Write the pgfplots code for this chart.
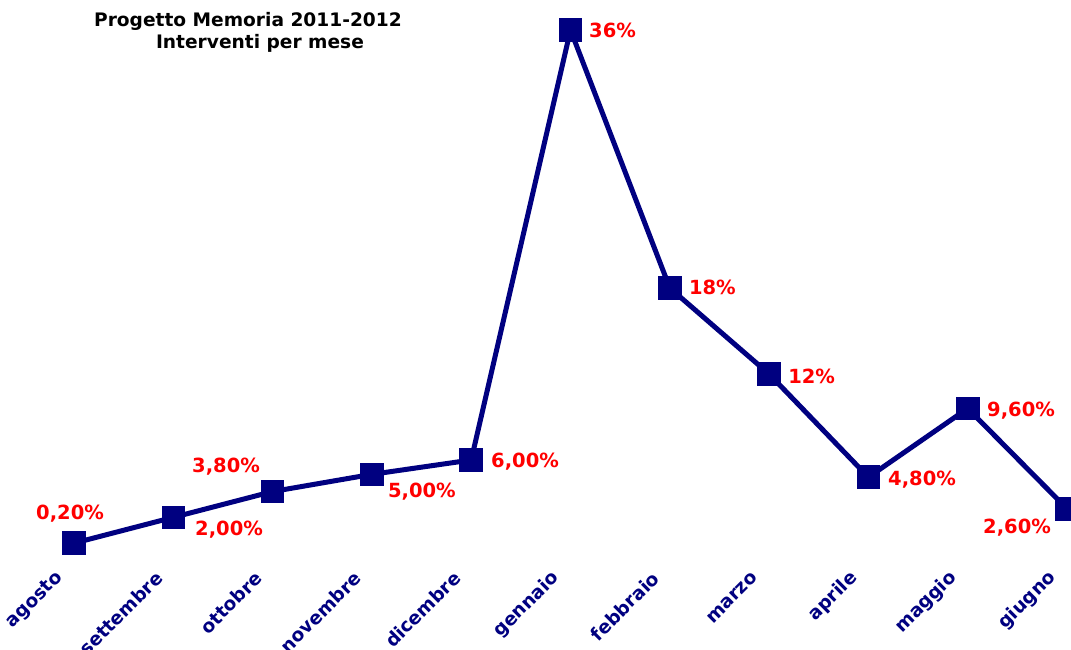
\documentclass[border=0pt]{standalone}
\usepackage{pgfplots}
\pgfplotsset{compat=1.18}
\usepackage{fontspec}
\setmainfont{DejaVu Sans}
\definecolor{navy}{RGB}{0,0,128}
\definecolor{lblred}{RGB}{255,0,0}
\tikzset{lbl/.style={anchor=base west, inner sep=0pt, text=lblred, font=\fontsize{19.5}{21}\selectfont\bfseries}}
\begin{document}
\begin{tikzpicture}
\path[use as bounding box] (-74pt,-103pt) rectangle (997pt,546pt);
\begin{axis}[
  at={(0pt,0pt)}, anchor=south west,
  scale only axis, width=993pt, height=516pt,
  xmin=0, xmax=10, ymin=0, ymax=36,
  clip=false,
  axis line style={draw=none},
  major tick length=0pt,
  ytick=\empty,
  xtick={0,1,2,3,4,5,6,7,8,9,10},
  xticklabels={agosto,settembre,ottobre,novembre,dicembre,gennaio,febbraio,marzo,aprile,maggio,giugno},
  xticklabel style={font=\fontsize{18.5}{20}\selectfont\bfseries, text=navy, xshift=-14pt, yshift=-29pt, rotate=45, anchor=east, inner sep=0pt},
]
\addplot[navy, line width=5pt, mark=square*, mark size=11.3pt, mark options={fill=navy, draw=navy, line width=0pt}]
  coordinates {(0,0.2) (1,2.0) (2,3.8) (3,5.0) (4,6.0) (5,36) (6,18) (7,12) (8,4.8) (9,9.6) (10,2.6)};
\node[lbl, xshift=-38pt, yshift=24pt] at (axis cs:0,0.2) {0,20\%};
\node[lbl, xshift=21.7pt, yshift=-17.7pt] at (axis cs:1,2.0) {2,00\%};
\node[lbl, xshift=-80.6pt, yshift=19.5pt] at (axis cs:2,3.8) {3,80\%};
\node[lbl, xshift=16pt, yshift=-22.7pt] at (axis cs:3,5.0) {5,00\%};
\node[lbl, xshift=19.8pt, yshift=-7pt] at (axis cs:4,6.0) {6,00\%};
\node[lbl, xshift=18.5pt, yshift=-7pt] at (axis cs:5,36) {36\%};
\node[lbl, xshift=19pt, yshift=-6pt] at (axis cs:6,18) {18\%};
\node[lbl, xshift=19pt, yshift=-9pt] at (axis cs:7,12) {12\%};
\node[lbl, xshift=19.6pt, yshift=-7.8pt] at (axis cs:8,4.8) {4,80\%};
\node[lbl, xshift=19.3pt, yshift=-7.6pt] at (axis cs:9,9.6) {9,60\%};
\node[lbl, xshift=-84pt, yshift=-24.3pt] at (axis cs:10,2.6) {2,60\%};
\node[anchor=base, inner sep=0pt, font=\fontsize{18.6}{20}\selectfont\bfseries] at (axis cs:1.752,36.21) {Progetto Memoria 2011-2012};
\node[anchor=base, inner sep=0pt, font=\fontsize{18.6}{20}\selectfont\bfseries] at (axis cs:1.873,34.68) {Interventi per mese};
\end{axis}
\end{tikzpicture}
\end{document}
